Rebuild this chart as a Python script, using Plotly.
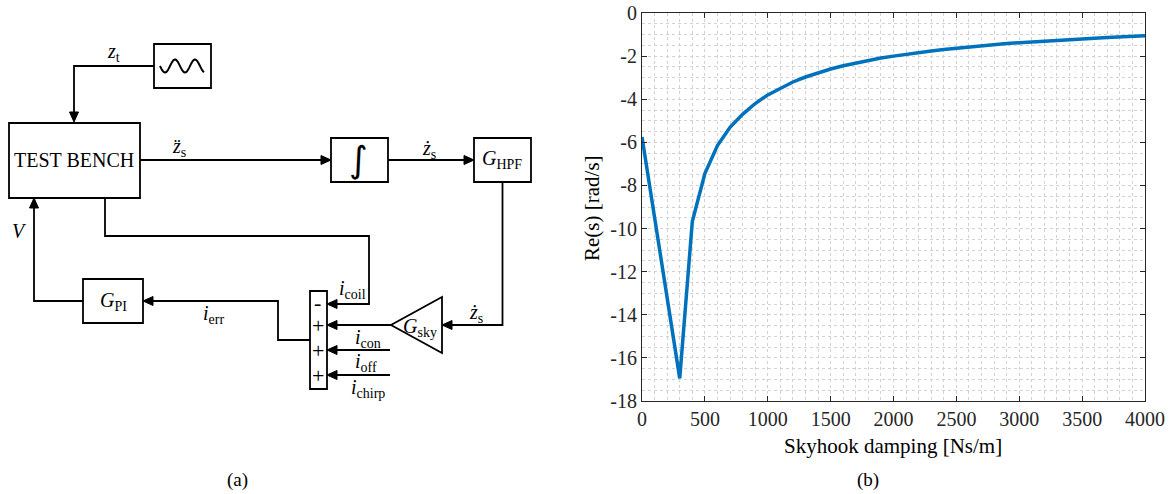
import math
import plotly.graph_objects as go

# ---------------- data (panel b) ----------------
damping = [0, 100, 200, 300, 400, 500, 600, 700, 800, 900, 1000,
           1100, 1200, 1300, 1400, 1500, 1600, 1700, 1800, 1900, 2000,
           2100, 2200, 2300, 2400, 2500, 2600, 2700, 2800, 2900, 3000,
           3100, 3200, 3300, 3400, 3500, 3600, 3700, 3800, 3900, 4000]
re_s = [-5.75, -9.45, -13.2, -16.95, -9.68, -7.45, -6.15, -5.3, -4.7, -4.2, -3.8,
        -3.48, -3.2, -2.97, -2.77, -2.6, -2.45, -2.32, -2.2, -2.09, -2.0,
        -1.91, -1.83, -1.76, -1.69, -1.63, -1.57, -1.52, -1.47, -1.42, -1.38,
        -1.34, -1.30, -1.27, -1.23, -1.20, -1.17, -1.14, -1.11, -1.08, -1.05]
x_tick_vals = [0, 500, 1000, 1500, 2000, 2500, 3000, 3500, 4000]
x_tick_text = ["0", "500", "1000", "1500", "2000", "2500", "3000", "3500", "4000"]
y_tick_vals = [-18, -16, -14, -12, -10, -8, -6, -4, -2, 0]
y_tick_text = ["-18", "-16", "-14", "-12", "-10", "-8", "-6", "-4", "-2", "0"]

W, H = 1173, 494
FONT = "Liberation Serif, Times New Roman, serif"
AX = "#262626"
GRID = "#d2d2d2"


def fx(x):
    return x / W


def fy(y):
    return 1 - y / H


shapes = []
annotations = []
LW = 1.8


def polyline(pts, closed=False, width=LW):
    path = "M " + " L ".join(f"{fx(x):.5f},{fy(y):.5f}" for x, y in pts)
    if closed:
        path += " Z"
    shapes.append(dict(type="path", path=path, xref="paper", yref="paper",
                       line=dict(color="black", width=width),
                       fillcolor="rgba(0,0,0,0)"))


def rect(x0, y0, x1, y1):
    shapes.append(dict(type="rect", xref="paper", yref="paper",
                       x0=fx(x0), x1=fx(x1), y0=fy(y1), y1=fy(y0),
                       line=dict(color="black", width=LW),
                       fillcolor="rgba(0,0,0,0)"))


def arrow(tx, ty, d, L=10, hw=4.5):
    if d == "right":
        pts = [(tx, ty), (tx - L, ty - hw), (tx - L, ty + hw)]
    elif d == "left":
        pts = [(tx, ty), (tx + L, ty - hw), (tx + L, ty + hw)]
    elif d == "down":
        pts = [(tx, ty), (tx - hw, ty - L), (tx + hw, ty - L)]
    else:
        pts = [(tx, ty), (tx - hw, ty + L), (tx + hw, ty + L)]
    path = "M " + " L ".join(f"{fx(x):.5f},{fy(y):.5f}" for x, y in pts) + " Z"
    shapes.append(dict(type="path", path=path, xref="paper", yref="paper",
                       line=dict(color="black", width=1), fillcolor="black"))


def label(x, y, text, size=20, angle=0, family=FONT):
    annotations.append(dict(x=fx(x), y=fy(y), xref="paper", yref="paper",
                            text=text, showarrow=False, xanchor="center",
                            yanchor="middle", textangle=angle,
                            font=dict(family=family, size=size, color="black")))


# ---------------- block diagram (panel a) ----------------
# source
rect(154, 44, 211, 88)
wave = [(160 + i * 44 / 60, 66 + 6.5 * math.sin(math.pi * 4.4 * i / 60)) for i in range(61)]
polyline(wave, width=2)
polyline([(154, 66), (74, 66), (74, 113)])
arrow(74, 122, "down")
label(113, 52, "<i>z</i><sub>t</sub>")

# test bench
rect(9, 123, 140, 198)
label(74, 160, "TEST BENCH", size=20)

# acceleration -> integrator
polyline([(140, 160), (322, 160)])
arrow(331, 160, "right")
label(179, 147, "<i>z\u0308</i><sub>s</sub>")
rect(331, 138, 388, 182)
label(359, 160, "\u222b", size=36, family="DejaVu Sans")

# integrator -> HPF
polyline([(388, 160), (465, 160)])
arrow(474, 160, "right")
label(429, 149, "<i>z\u0307</i><sub>s</sub>")
rect(474, 138, 531, 182)
label(502, 160, "<i>G</i><sub>HPF</sub>")

# HPF -> skyhook gain
polyline([(502.5, 182), (502.5, 325), (452, 325)])
arrow(442, 325, "left")
label(476, 313, "<i>z\u0307</i><sub>s</sub>")
polyline([(442, 297), (442, 353), (391, 325)], closed=True)
label(420, 327, "<i>G</i><sub>sky</sub>")

# gain -> summing bar
polyline([(391, 325), (336, 325)])
arrow(327, 325, "left")
rect(310, 291, 327, 389)
label(317.5, 302, "-", size=22)
label(317.5, 325, "+", size=22)
label(317.5, 350, "+", size=22)
label(317.5, 375, "+", size=22)

# coil feedback
polyline([(105, 198), (105, 236), (369, 236), (369, 304), (336, 304)])
arrow(327, 304, "left")
label(352, 289, "<i>i</i><sub>coil</sub>")

# other inputs
polyline([(390, 350), (336, 350)])
arrow(327, 350, "left")
label(368, 338, "<i>i</i><sub>con</sub>")
polyline([(390, 375), (336, 375)])
arrow(327, 375, "left")
label(366, 362, "<i>i</i><sub>off</sub>")
label(368, 388, "<i>i</i><sub>chirp</sub>")

# error -> PI
polyline([(310, 340), (278, 340), (278, 301), (153, 301)])
arrow(143, 301, "left")
label(213, 314, "<i>i</i><sub>err</sub>")
rect(83, 279, 143, 323)
label(113, 301, "<i>G</i><sub>PI</sub>")

# PI -> test bench
polyline([(83, 301), (34, 301), (34, 207)])
arrow(34, 198, "up")
label(19, 231, "<i>V</i>")

label(237, 480, "(a)", size=19)

# ---------------- panel b ----------------
fig = go.Figure()
fig.add_trace(go.Scatter(x=damping, y=re_s, mode="lines",
                         line=dict(color="#0072BD", width=3.5),
                         hoverinfo="skip", showlegend=False))

label(893, 446, "Skyhook damping [Ns/m]", size=21)
label(592, 208, "Re(s) [rad/s]", size=21, angle=-90)
label(868, 480, "(b)", size=19)

axis_common = dict(ticks="inside", ticklen=5, tickcolor=AX, tickwidth=1,
                   showline=True, linecolor=AX, linewidth=1, mirror="ticks",
                   showgrid=True, gridcolor=GRID, griddash="dot", gridwidth=1,
                   zeroline=False, automargin=False, ticklabeloverflow="allow",
                   tickfont=dict(family=FONT, size=20, color=AX))

fig.update_layout(
    width=W, height=H,
    margin=dict(l=0, r=0, t=0, b=0, pad=0, autoexpand=False),
    paper_bgcolor="white", plot_bgcolor="white",
    showlegend=False,
    hovermode=False,
    xaxis=dict(domain=[fx(642), fx(1145)], range=[0, 4000],
               tickvals=x_tick_vals, ticktext=x_tick_text,
               minor=dict(dtick=100, showgrid=True, gridcolor=GRID,
                          griddash="dot", gridwidth=1),
               **axis_common),
    yaxis=dict(domain=[fy(401), fy(13)], range=[-18, 0],
               tickvals=y_tick_vals, ticktext=y_tick_text,
               minor=dict(dtick=0.5, showgrid=True, gridcolor=GRID,
                          griddash="dot", gridwidth=1),
               **axis_common),
    shapes=shapes,
    annotations=annotations,
)

fig.write_html("out.html",
               config={"displayModeBar": False, "staticPlot": True},
               post_script="document.body.style.margin='0';document.body.style.overflow='hidden';")
